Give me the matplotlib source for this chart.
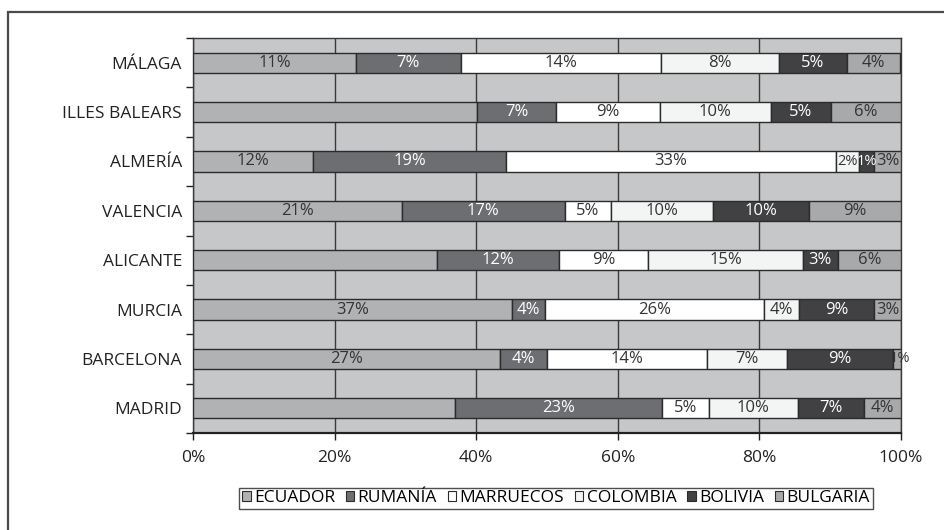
import matplotlib
matplotlib.use("Agg")
import matplotlib.pyplot as plt
from matplotlib.patches import Rectangle
from matplotlib.ticker import FuncFormatter, MultipleLocator

plt.rcParams['font.family'] = ['Open Sans', 'DejaVu Sans']

provinces = ["MÁLAGA", "ILLES BALEARS", "ALMERÍA", "VALENCIA",
             "ALICANTE", "MURCIA", "BARCELONA", "MADRID"]
countries = ["ECUADOR", "RUMANÍA", "MARRUECOS", "COLOMBIA", "BOLIVIA", "BULGARIA"]

# Share of each nationality within the province (bar widths, %)
ecuador   = [23.0, 40.1, 17.0, 29.5, 34.5, 45.0, 43.4, 37.0]
rumania   = [14.8, 11.2, 27.2, 23.0, 17.2,  4.7,  6.6, 29.3]
marruecos = [28.3, 14.6, 46.6,  6.5, 12.6, 30.9, 22.6,  6.6]
colombia  = [16.6, 15.7,  3.3, 14.4, 21.8,  5.0, 11.3, 12.5]
bolivia   = [ 9.7,  8.5,  2.1, 13.6,  5.0, 10.6, 14.9,  9.4]
bulgaria  = [ 7.4,  9.9,  3.8, 13.0,  8.9,  3.8,  1.2,  5.2]

# Printed labels: province's share of each nationality's national total (%)
lab_ecuador   = [11, None, 12, 21, None, 37, 27, None]
lab_rumania   = [7, 7, 19, 17, 12, 4, 4, 23]
lab_marruecos = [14, 9, 33, 5, 9, 26, 14, 5]
lab_colombia  = [8, 10, 2, 10, 15, 4, 7, 10]
lab_bolivia   = [5, 5, 1, 10, 3, 9, 9, 7]
lab_bulgaria  = [4, 6, 3, 9, 6, 3, 1, 4]

widths = [ecuador, rumania, marruecos, colombia, bolivia, bulgaria]
labels = [lab_ecuador, lab_rumania, lab_marruecos, lab_colombia, lab_bolivia, lab_bulgaria]
fills = ["#b1b2b4", "#6d6e71", "#ffffff", "#f3f4f4", "#414042", "#a8a9ab"]
text_cols = ["#333333", "#ffffff", "#333333", "#333333", "#ffffff", "#333333"]

fig = plt.figure(figsize=(9.45, 5.30), dpi=100)
ax = fig.add_axes([193 / 945, 1 - 433 / 530, 708 / 945, 395 / 530])
ax.set_facecolor("#c6c7c8")

ypos = list(range(len(provinces)))
left = [0.0] * len(provinces)
for w, lab, fc, tc, name in zip(widths, labels, fills, text_cols, countries):
    ax.barh(ypos, w, left=left, height=0.41, color=fc, edgecolor="#2b2b2b",
            linewidth=1.0, label=name, zorder=3)
    for i, (wi, li) in enumerate(zip(w, lab)):
        if li is not None:
            # very narrow segments get a smaller label so neighbours don't collide
            fs = 12 if wi >= 3.5 else 10.5
            xc = left[i] + wi / 2
            if left[i] + wi >= 99.9 and wi < 2:
                xc = 99.8
            ax.text(xc, i, f"{li}%", ha="center", va="center",
                    fontsize=fs, color=tc, zorder=4)
    left = [a + b for a, b in zip(left, w)]

ax.set_xlim(0, 100)
ax.set_ylim(len(provinces) - 0.5, -0.5)
ax.xaxis.set_major_locator(MultipleLocator(20))
ax.xaxis.set_major_formatter(FuncFormatter(lambda v, p: f"{v:.0f}%"))
ax.grid(axis="x", color="#3a3a3a", linewidth=1.0, zorder=1)
ax.set_axisbelow(True)

ax.set_yticks(ypos)
ax.set_yticklabels(provinces)
ax.set_yticks([y - 0.5 for y in ypos] + [len(provinces) - 0.5], minor=True)
ax.tick_params(axis="y", which="major", length=0, pad=8, labelsize=12.5, labelcolor="#222222")
ax.tick_params(axis="y", which="minor", length=5, width=1.0, color="#222222")
ax.tick_params(axis="x", length=5, width=1.0, color="#222222", pad=7,
               labelsize=12.5, labelcolor="#222222")

for s in ["top", "right", "left"]:
    ax.spines[s].set_color("#3a3a3a")
    ax.spines[s].set_linewidth(1.0)
ax.spines["bottom"].set_color("#222222")
ax.spines["bottom"].set_linewidth(1.6)

leg = fig.legend(loc="center", bbox_to_anchor=(556 / 945, 1 - 498.5 / 530), ncol=6,
                 frameon=True, fancybox=False, edgecolor="#222222", fontsize=12.5,
                 handlelength=0.5, handleheight=0.5, handletextpad=0.2,
                 columnspacing=0.6, borderpad=0.15, borderaxespad=0)
leg.get_frame().set_linewidth(1.0)
for h in leg.legend_handles:
    h.set_linewidth(0.8)

# outer frame around the figure
fig.patches.append(Rectangle((8 / 945, -0.1), 1.2, 1 - 12 / 530 + 0.1,
                             transform=fig.transFigure, fill=False,
                             edgecolor="#4a4a4a", linewidth=1.6))

fig.savefig("out.png", dpi=100)
